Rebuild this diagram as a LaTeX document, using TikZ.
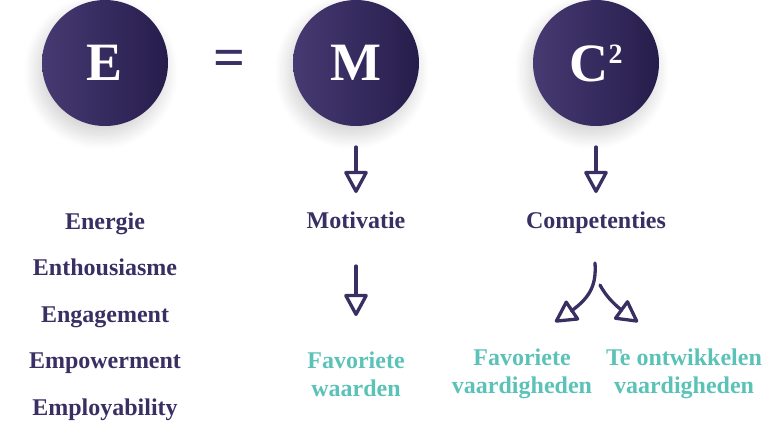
\documentclass[tikz,border=0pt]{standalone}
\usepackage{fontspec}
\setmainfont{Liberation Serif}
\usetikzlibrary{arrows.meta,shadows.blur,bending}
\definecolor{purp}{HTML}{3A2F63}
\definecolor{purpL}{HTML}{463A72}
\definecolor{purpD}{HTML}{271D4C}
\definecolor{teal}{HTML}{5BC2B8}
\tikzset{
  bigcirc/.style={circle,minimum size=126pt,inner sep=0pt,left color=purpL,right color=purpD,
    blur shadow={shadow xshift=-4pt,shadow yshift=-9pt,shadow opacity=18,shadow blur steps=20,shadow blur radius=14pt,shadow blur extra rounding=4pt},
    text=white,font=\fontsize{54}{60}\selectfont\bfseries},
  lbl/.style={text=purp,font=\fontsize{24}{28}\selectfont\bfseries,anchor=base,inner sep=0pt},
  tlbl/.style={text=teal,font=\fontsize{24}{28}\selectfont\bfseries,align=center,inner sep=0pt},
  arr/.style={draw=purp,line width=3.3pt,line cap=round,-{Triangle[open,length=24pt,width=25pt,line width=3.3pt,round]}},
}
\begin{document}
\begin{tikzpicture}[x=1pt,y=-1pt]
\useasboundingbox (0,0) rectangle (768,424);
\node[bigcirc] (E) at (105,63) {E};
\node[bigcirc] (M) at (356,63) {M};
\node[bigcirc] (C) at (596,63) {C\raisebox{18pt}{\fontsize{28}{28}\selectfont 2}};
\node[text=purp,font=\fontsize{56}{60}\selectfont\bfseries,inner sep=0pt] (eq) at (229,63) {=};
% left column
\node[lbl] (l1) at (105,229) {Energie};
\node[lbl] (l2) at (105,275.5) {Enthousiasme};
\node[lbl] (l3) at (105,322) {Engagement};
\node[lbl] (l4) at (105,368.5) {Empowerment};
\node[lbl] (l5) at (105,415) {Employability};
% middle labels
\node[lbl] (mot) at (356,228) {Motivatie};
\node[lbl] (comp) at (596,228) {Competenties};
% teal labels
\node[tlbl] (fw) at (356,374) {Favoriete\\waarden};
\node[tlbl] (fv) at (522,374) {Favoriete\\vaardigheden};
\node[tlbl] (tv) at (684,374) {Te ontwikkelen\\vaardigheden};
% arrow coordinates
\coordinate (a1s) at (356,147); \coordinate (a1e) at (356,193);
\coordinate (a2s) at (596,147); \coordinate (a2e) at (596,193);
\coordinate (a3s) at (356,266); \coordinate (a3e) at (356,316);
\coordinate (a4s) at (595,263); \coordinate (a4e) at (555,322);
\coordinate (a5s) at (600,285); \coordinate (a5e) at (638,322);
\draw[arr] (a1s) -- (a1e);
\draw[arr] (a2s) -- (a2e);
\draw[arr] (a3s) -- (a3e);
\draw[arr] (a4s) .. controls (597,292) and (585,303) .. (a4e);
\draw[arr] (a5s) .. controls (608,300) and (620,310) .. (a5e);
\end{tikzpicture}
\end{document}
